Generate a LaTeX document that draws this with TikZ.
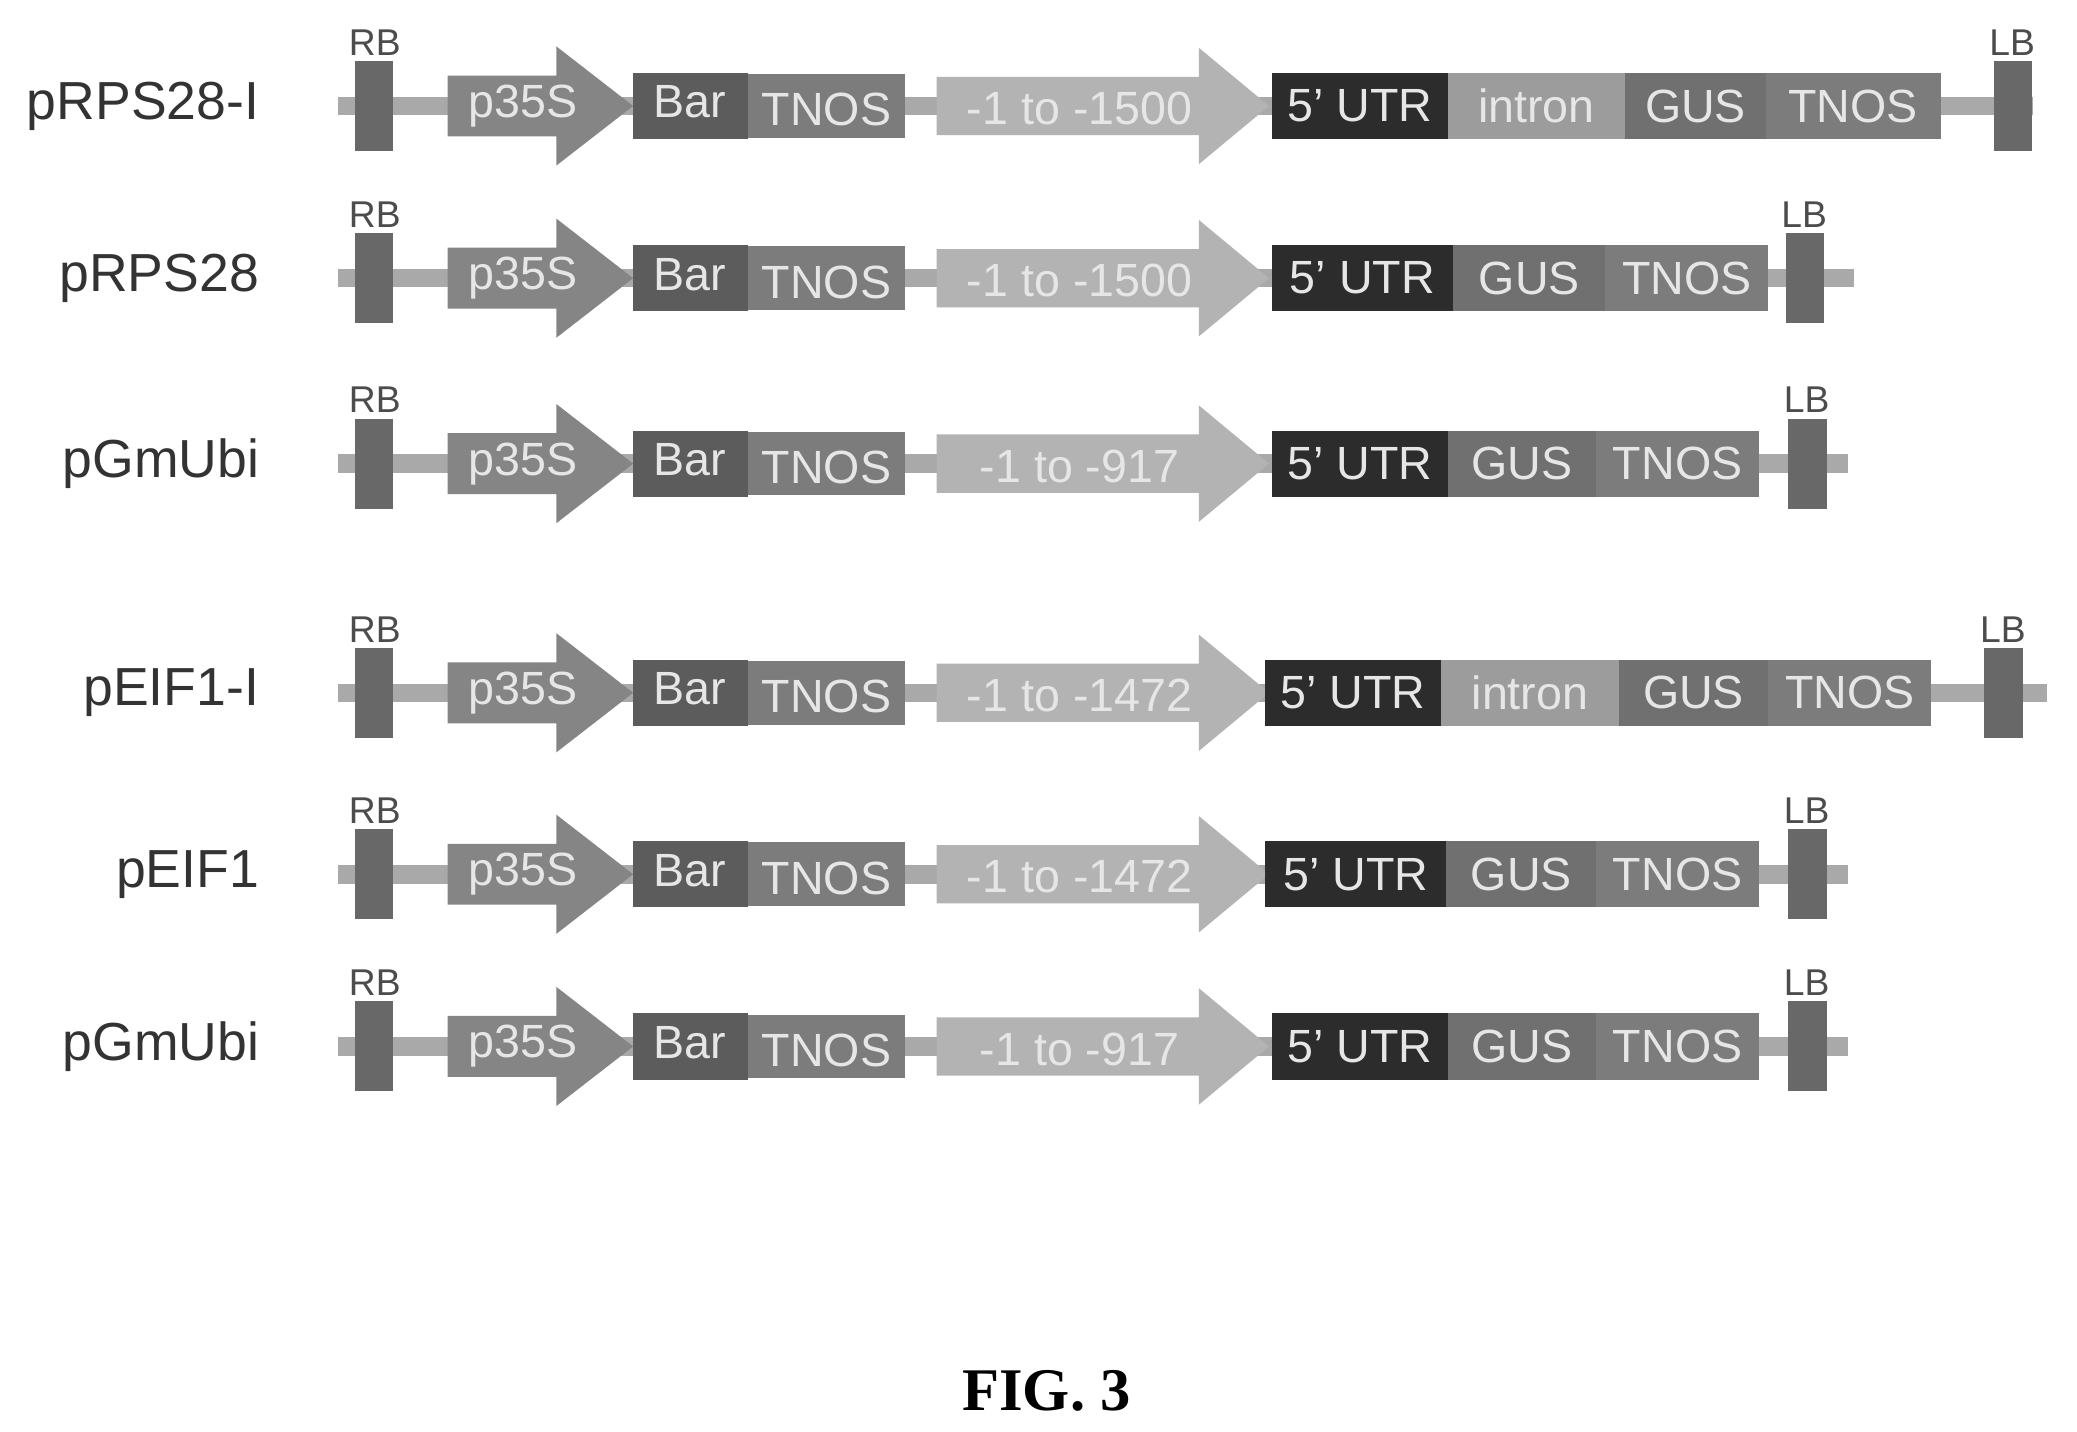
\documentclass[tikz,border=0pt]{standalone}
\usepackage{fontspec}
\setmainfont{Liberation Sans}
\newfontfamily\figfont{Liberation Serif}
\definecolor{bbone}{HTML}{A9A9A9}
\definecolor{border}{HTML}{686868}
\definecolor{ptsf}{HTML}{858585}
\definecolor{barc}{HTML}{5C5C5C}
\definecolor{tnosc}{HTML}{7C7C7C}
\definecolor{promc}{HTML}{B3B3B3}
\definecolor{utrc}{HTML}{2C2C2C}
\definecolor{intronc}{HTML}{9C9C9C}
\definecolor{gusc}{HTML}{707070}
\definecolor{txtc}{HTML}{E6E6E6}
\tikzset{seg/.style={inner sep=0pt,outer sep=0pt,text=txtc,font=\fontsize{10}{10}\selectfont},
 lbl/.style={font=\fontsize{11.5}{11.5}\selectfont,anchor=east,text=black!80},
 bl/.style={font=\fontsize{8}{8}\selectfont,text=black!70}}
% \ctor{y}{id}{label}{promoter}{backbone end}{LB x}
\newcommand\ctor[6]{%
 \fill[bbone] (255,#1-7) rectangle (#5,#1+7);
 \fill[border] (268,#1-34) rectangle (297,#1+34);
 \node[bl] (rb#2) at (283,#1-48) {RB};
 \fill[border] (#6,#1-34) rectangle (#6+29,#1+34);
 \node[bl] (lb#2) at (#6+14,#1-48) {LB};
 \fill[ptsf] (338,#1-23) -- (420,#1-23) -- (420,#1-45) -- (478,#1) -- (420,#1+45) -- (420,#1+23) -- (338,#1+23) -- cycle;
 \node[seg] (p#2) at (395,#1) {p35S};
 \fill[barc] (478,#1-25) rectangle (565,#1+25);
 \node[seg] (bar#2) at (521,#1-3) {Bar};
 \fill[tnosc] (565,#1-24) rectangle (683,#1+24);
 \node[seg] (tn#2) at (624,#1+3) {TNOS};
 \fill[promc] (707,#1-22) -- (905,#1-22) -- (905,#1-44) -- (958,#1) -- (905,#1+44) -- (905,#1+22) -- (707,#1+22) -- cycle;
 \node[seg] (pr#2) at (815,#1+2) {#4};
 \node[lbl] (lab#2) at (208,#1) {#3};}
\newcommand\seg[6]{\fill[#4] (#2,#1-25) rectangle (#3,#1+25);
 \node[seg] (#6) at ({(#2+#3)/2},#1) {#5};}
\begin{document}
\begin{tikzpicture}[x=0.01cm,y=-0.01cm]
\useasboundingbox (0,0) rectangle (1568,1081);
\ctor{80}{a}{pRPS28-I}{-1 to -1500}{1535}{1505}
\seg{80}{960}{1093}{utrc}{5' UTR}{ua}
\seg{80}{1093}{1227}{intronc}{intron}{ia}
\seg{80}{1227}{1333}{gusc}{GUS}{ga}
\seg{80}{1333}{1465}{tnosc}{TNOS}{ta}
\ctor{210}{b}{pRPS28}{-1 to -1500}{1400}{1348}
\seg{210}{960}{1097}{utrc}{5' UTR}{ub}
\seg{210}{1097}{1212}{gusc}{GUS}{gb}
\seg{210}{1212}{1335}{tnosc}{TNOS}{tb}
\ctor{350}{c}{pGmUbi}{-1 to -917}{1395}{1350}
\seg{350}{960}{1093}{utrc}{5' UTR}{uc}
\seg{350}{1093}{1205}{gusc}{GUS}{gc}
\seg{350}{1205}{1328}{tnosc}{TNOS}{tc}
\ctor{523}{d}{pEIF1-I}{-1 to -1472}{1545}{1498}
\seg{523}{955}{1088}{utrc}{5' UTR}{ud}
\seg{523}{1088}{1222}{intronc}{intron}{id}
\seg{523}{1222}{1335}{gusc}{GUS}{gd}
\seg{523}{1335}{1458}{tnosc}{TNOS}{td}
\ctor{660}{e}{pEIF1}{-1 to -1472}{1395}{1350}
\seg{660}{955}{1092}{utrc}{5' UTR}{ue}
\seg{660}{1092}{1205}{gusc}{GUS}{ge}
\seg{660}{1205}{1328}{tnosc}{TNOS}{te}
\ctor{790}{f}{pGmUbi}{-1 to -917}{1395}{1350}
\seg{790}{960}{1093}{utrc}{5' UTR}{uf}
\seg{790}{1093}{1205}{gusc}{GUS}{gf}
\seg{790}{1205}{1328}{tnosc}{TNOS}{tf}
\node[font=\figfont\bfseries\fontsize{13}{13}\selectfont] (fig) at (790,1050) {FIG. 3};
\end{tikzpicture}
\end{document}
